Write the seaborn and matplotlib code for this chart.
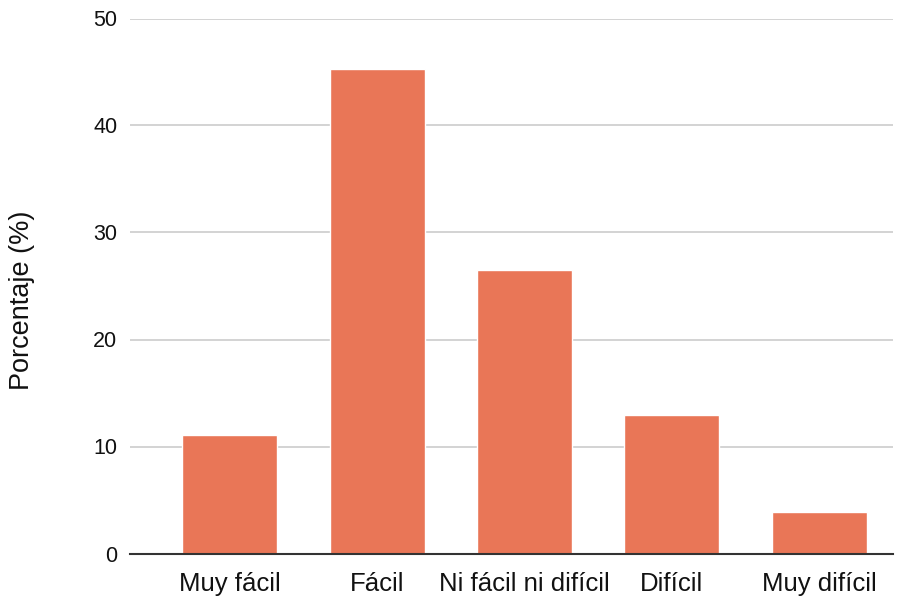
import matplotlib
matplotlib.use("Agg")
import matplotlib.pyplot as plt
import seaborn as sns
import pandas as pd

categories = ["Muy fácil", "Fácil", "Ni fácil ni difícil", "Difícil", "Muy difícil"]
percentages = [11.1, 45.3, 26.5, 12.9, 3.9]
y_ticks = [0, 10, 20, 30, 40, 50]

sns.set_theme(style="white")
plt.rcParams["font.family"] = ["Liberation Sans", "DejaVu Sans"]

df = pd.DataFrame({"categoria": categories, "porcentaje": percentages})

fig = plt.figure(figsize=(9.07, 6.01), dpi=100)
ax = fig.add_axes([130 / 907, 1 - 553.5 / 601, 763 / 907, 535 / 601])

sns.barplot(data=df, x="categoria", y="porcentaje", color="#E97657",
            saturation=1, width=0.645, ax=ax, zorder=3)

ax.set_ylim(0, 50)
ax.set_yticks(y_ticks)
ax.set_yticklabels([str(t) for t in y_ticks])
ax.yaxis.grid(True, color="#cccccc", linewidth=1.2, zorder=0)
ax.set_xlim(-0.676, len(categories) - 0.5)

for side in ["top", "right", "left"]:
    ax.spines[side].set_visible(False)
ax.spines["bottom"].set_color("#333333")
ax.spines["bottom"].set_linewidth(1.5)
ax.spines["bottom"].set_zorder(4)

ax.tick_params(axis="both", length=0, colors="#111111")
ax.tick_params(axis="y", pad=9, labelsize=15.5)
ax.tick_params(axis="x", pad=13, labelsize=18.5)
ax.set_xlabel("")
ax.set_ylabel("Porcentaje (%)", fontsize=19.5, color="#111111", labelpad=0)
ax.yaxis.set_label_coords(35 / 907, 0.5, transform=fig.transFigure)

fig.savefig("out.png", dpi=100)
